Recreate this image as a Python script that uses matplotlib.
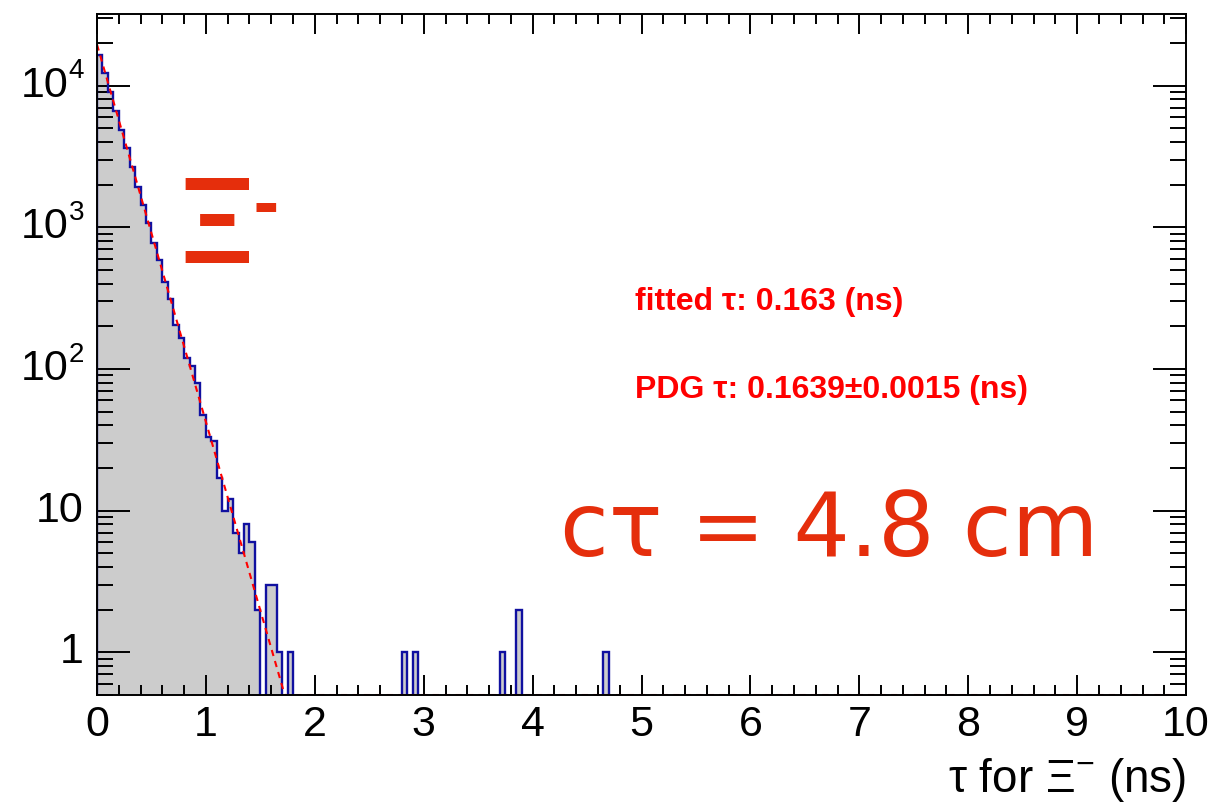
import numpy as np
import matplotlib.pyplot as plt
import matplotlib.transforms as mtransforms
from matplotlib.ticker import MultipleLocator, LogLocator, NullFormatter

plt.rcParams['font.family'] = ['Liberation Sans', 'DejaVu Sans']
plt.rcParams['mathtext.fontset'] = 'custom'
plt.rcParams['mathtext.rm'] = 'Liberation Sans'
plt.rcParams['mathtext.it'] = 'Liberation Sans'

# histogram of Xi- proper decay time, 200 bins of 0.05 ns on [0, 10]
bin_width = 0.05
n_bins = 200
counts_head = [16400, 12300, 9060, 6650, 4860, 3610, 2650, 1930, 1435, 1077,
               778, 587, 412, 311, 204, 166, 120, 105, 80, 47,
               33, 31, 17, 10, 12, 7, 5, 8, 6, 2,
               0, 3, 3, 1, 0, 1]
tail_lo = [2.80, 2.90, 3.70, 3.85, 4.65]   # lower edges of isolated bins
tail_counts = [1, 1, 1, 2, 1]

# exponential fit
fit_amp = 19500
fit_tau = 0.163

y_ticks = [1, 10, 100, 1000, 10000]
y_base = ['1', '10', '10', '10', '10']
y_exp = ['', '', '2', '3', '4']

edges = np.linspace(0, n_bins * bin_width, n_bins + 1)
counts = np.zeros(n_bins)
counts[:len(counts_head)] = counts_head
for lo, c in zip(tail_lo, tail_counts):
    counts[int(round(lo / bin_width))] = c

ymin, ymax = 0.5, 3.2e4
floor = 0.05
draw = np.where(counts > 0, counts, floor)

fig = plt.figure(figsize=(12.14, 8.06), dpi=100)
ax = fig.add_axes([0.0799, 0.1377, 0.8971, 0.8449])
ax.set_yscale('log')

ax.stairs(draw, edges, baseline=floor, fill=True, color='#cccccc', zorder=1)
ax.stairs(draw, edges, baseline=floor, color='#1010a0', lw=1.7, zorder=2)

xf = np.linspace(0, 10, 3000)
yf = np.maximum(fit_amp * np.exp(-xf / fit_tau), ymin)
ax.plot(xf, yf, color='#ff0000', ls=(0, (3, 2.5)), lw=1.5, zorder=2.3)

ax.set_xlim(0, 10)
ax.set_ylim(ymin, ymax)

ax.xaxis.set_major_locator(MultipleLocator(1))
ax.xaxis.set_minor_locator(MultipleLocator(0.2))
ax.yaxis.set_major_locator(LogLocator(base=10, numticks=10))
ax.yaxis.set_minor_locator(LogLocator(base=10, subs=np.arange(2, 10), numticks=20))
ax.yaxis.set_minor_formatter(NullFormatter())

ax.tick_params(which='both', direction='in', top=True, right=True, width=1.4)
ax.tick_params(axis='x', which='major', length=14.4, labelsize=31, pad=7)
ax.tick_params(axis='x', which='minor', length=7.2)
ax.tick_params(axis='y', which='major', length=23.5, labelleft=False)
ax.tick_params(axis='y', which='minor', length=11.8)
for s in ax.spines.values():
    s.set_linewidth(1.4)

# y tick labels, ROOT style: plain labels right aligned, exponent labels hang right
trans = mtransforms.blended_transform_factory(ax.transAxes, ax.transData)
trans_exp = mtransforms.offset_copy(trans, fig=fig, x=0, y=1, units='points')
for v, b, e in zip(y_ticks, y_base, y_exp):
    if e:
        ax.text(-0.0262, v, b, transform=trans, ha='right', va='center', fontsize=31)
        ax.text(-0.0262, v, e, transform=trans_exp, ha='left', va='bottom', fontsize=20)
    else:
        ax.text(-0.0125, v, b, transform=trans, ha='right', va='center', fontsize=31)

ax.set_xlabel(r'τ for Ξ$^{-}$ (ns)', loc='right', fontsize=33, labelpad=8)

red = '#e52e0c'
ax.text(0.110, 0.684, 'Ξ', transform=ax.transAxes, color=red, fontsize=84,
        ha='center', va='center', fontweight='semibold', family=['Lato', 'DejaVu Sans'])
ax.text(0.1547, 0.715, '-', transform=ax.transAxes, color=red, fontsize=46,
        ha='center', va='center', fontweight='bold', family='DejaVu Sans')

ax.text(0.494, 0.577, 'fitted τ: 0.163 (ns)', transform=ax.transAxes,
        color='#ff0000', fontsize=23, fontweight='bold', ha='left', va='center')
ax.text(0.494, 0.448, 'PDG τ: 0.1639±0.0015 (ns)', transform=ax.transAxes,
        color='#ff0000', fontsize=23, fontweight='bold', ha='left', va='center')

ax.text(0.425, 0.204, 'cτ = 4.8 cm', transform=ax.transAxes, color=red,
        fontsize=64, ha='left', va='baseline', family='DejaVu Sans')

fig.savefig('out.png', dpi=100)
